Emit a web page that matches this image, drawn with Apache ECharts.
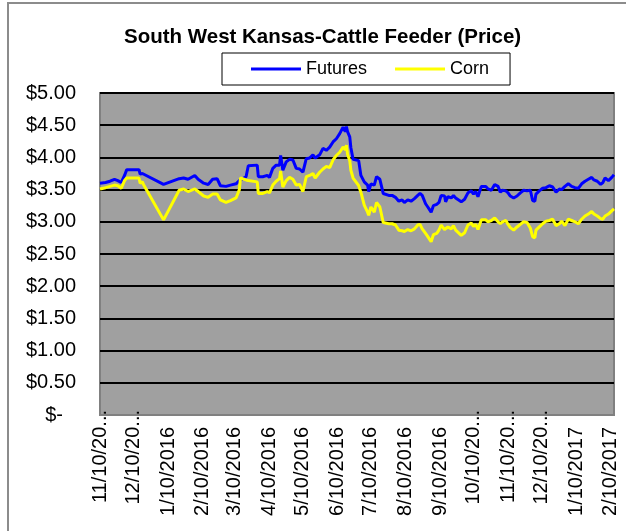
<!DOCTYPE html>
<html>
<head>
<meta charset="utf-8">
<script src="https://cdn.jsdelivr.net/npm/echarts@6/dist/echarts.min.js"></script>
<style>
html,body{margin:0;padding:0;background:#fff;}
#chart{width:626px;height:531px;}
</style>
</head>
<body>
<div id="chart"></div>
<script>
// Days since 11/10/2015 for each reading
const dayOffsets = [0,5,9,13,16,19,22,24,35,36,38,39,57,71,75,79,85,88,93,97,101,105,108,113,117,122,125,126,131,133,141,142,146,150,152,155,158,161,162,164,167,170,173,176,179,182,185,188,191,193,197,200,203,206,209,212,215,216,218,220,221,222,224,225,227,228,232,234,237,240,241,243,246,248,251,254,259,262,265,268,271,273,276,279,282,285,287,289,292,294,297,299,302,304,306,309,310,312,315,317,319,324,327,330,333,335,337,339,342,343,346,348,351,354,357,359,361,364,366,368,371,374,377,380,383,386,388,390,391,394,397,400,403,406,409,412,414,417,420,423,426,429,432,435,438,441,443,446,449,451,453,456,459,461];

const futures = [3.60,3.61,3.63,3.66,3.64,3.61,3.72,3.81,3.81,3.74,3.75,3.74,3.58,3.67,3.68,3.66,3.72,3.66,3.60,3.58,3.66,3.67,3.56,3.55,3.57,3.59,3.64,3.67,3.70,3.87,3.88,3.70,3.70,3.72,3.69,3.83,3.88,3.88,4.03,3.80,3.93,3.97,3.96,3.83,3.82,3.77,3.98,3.99,4.04,3.99,4.04,4.14,4.11,4.16,4.24,4.29,4.37,4.34,4.47,4.40,4.48,4.40,4.32,4.15,3.97,3.97,3.95,3.72,3.62,3.57,3.47,3.59,3.57,3.70,3.66,3.44,3.41,3.41,3.38,3.32,3.34,3.30,3.34,3.32,3.36,3.41,3.44,3.41,3.28,3.23,3.15,3.25,3.27,3.30,3.41,3.40,3.31,3.39,3.37,3.41,3.37,3.31,3.35,3.45,3.48,3.43,3.47,3.39,3.55,3.54,3.55,3.51,3.49,3.58,3.55,3.46,3.49,3.48,3.45,3.40,3.37,3.40,3.45,3.49,3.48,3.49,3.33,3.32,3.43,3.48,3.52,3.53,3.56,3.54,3.46,3.51,3.50,3.55,3.59,3.55,3.53,3.52,3.59,3.63,3.66,3.69,3.65,3.63,3.58,3.61,3.68,3.64,3.69,3.73];

const corn = [3.51,3.53,3.55,3.57,3.56,3.52,3.64,3.68,3.68,3.60,3.62,3.58,3.03,3.49,3.51,3.47,3.51,3.47,3.40,3.38,3.43,3.43,3.34,3.30,3.33,3.37,3.50,3.68,3.65,3.64,3.62,3.44,3.44,3.47,3.45,3.57,3.63,3.67,3.79,3.54,3.64,3.69,3.66,3.57,3.58,3.47,3.70,3.72,3.75,3.68,3.77,3.82,3.86,3.84,3.96,4.03,4.08,4.11,4.16,4.12,4.19,4.05,3.95,3.80,3.68,3.66,3.56,3.46,3.26,3.15,3.10,3.23,3.15,3.30,3.23,2.99,2.97,2.97,2.95,2.87,2.86,2.85,2.88,2.86,2.89,2.95,2.96,2.89,2.82,2.77,2.69,2.80,2.82,2.87,2.95,2.88,2.89,2.92,2.89,2.94,2.87,2.79,2.83,2.95,2.98,2.93,2.96,2.88,3.03,3.04,3.03,3.00,3.02,3.06,3.00,2.97,3.00,3.02,2.96,2.91,2.87,2.92,2.96,3.00,2.99,2.90,2.77,2.75,2.87,2.92,2.97,3.01,3.02,3.04,2.94,2.97,3.01,2.94,3.04,3.02,3.00,2.97,3.04,3.09,3.12,3.16,3.12,3.09,3.05,3.04,3.09,3.12,3.17,3.20];

const tickDates = ['2015-11-10','2015-12-10','2016-01-10','2016-02-10','2016-03-10','2016-04-10','2016-05-10','2016-06-10','2016-07-10','2016-08-10','2016-09-10','2016-10-10','2016-11-10','2016-12-10','2017-01-10','2017-02-10'];
const tickLabels = ['11/10/20...','12/10/20...','1/10/2016','2/10/2016','3/10/2016','4/10/2016','5/10/2016','6/10/2016','7/10/2016','8/10/2016','9/10/2016','10/10/20...','11/10/20...','12/10/20...','1/10/2017','2/10/2017'];

const START = Date.UTC(2015,10,10);
function dayOf(s){ const p=s.split('-').map(Number); return Math.round((Date.UTC(p[0],p[1]-1,p[2])-START)/86400000); }
const tickDays = tickDates.map(dayOf);

const FONT = '"Liberation Sans", Arial, sans-serif';

const chart = echarts.init(document.getElementById('chart'), null, {renderer:'canvas'});
chart.setOption({
  animation:false,
  backgroundColor:'#ffffff',
  graphic:[{
    type:'rect', shape:{x:8,y:3,width:700,height:700},
    style:{fill:'none',stroke:'#8c8c8c',lineWidth:2}, silent:true
  }],
  title:{
    text:'South West Kansas-Cattle Feeder (Price)',
    left:119, top:22,
    textStyle:{fontFamily:FONT,fontSize:20.5,fontWeight:'bold',color:'#000'}
  },
  legend:{
    left:222, top:53,
    padding:[7,21,7,29],
    borderColor:'#000', borderWidth:1,
    backgroundColor:'#fff',
    itemWidth:50, itemHeight:3, itemGap:28,
    icon:'rect',
    textStyle:{fontFamily:FONT,fontSize:18,color:'#000'},
    data:['Futures','Corn']
  },
  grid:{
    left:100, right:12, top:93, bottom:116,
    show:true, backgroundColor:'#a0a0a0', borderColor:'#808080', borderWidth:2
  },
  xAxis:{
    type:'value',
    min:0, max:461,
    axisLine:{show:false},
    axisTick:{show:false},
    splitLine:{show:false},
    axisLabel:{
      customValues:tickDays,
      rotate:90,
      margin:-5,
      color:'#000',
      fontFamily:FONT,
      fontSize:20,
      formatter:function(v){
        const i = tickDays.indexOf(Math.round(v));
        const t = i>=0 ? tickLabels[i] : '';
        return t.endsWith('...') ? '{t|'+t+'}' : '{n|'+t+'}';
      },
      rich:{
        t:{fontFamily:FONT,fontSize:20,color:'#000'},
        n:{fontFamily:FONT,fontSize:20,color:'#000',padding:[0,17,0,0]}
      }
    }
  },
  yAxis:{
    type:'value',
    min:0, max:5, interval:0.5,
    axisLine:{show:false},
    axisTick:{show:false},
    splitLine:{show:true, showMinLine:false, lineStyle:{color:'#000',width:2}},
    axisLabel:{
      margin:24,
      color:'#000', fontFamily:FONT, fontSize:20,
      formatter:function(v){ return v===0 ? '{z|$-}' : '$'+v.toFixed(2); },
      rich:{ z:{fontFamily:FONT,fontSize:20,color:'#000',padding:[0,13,0,0]} }
    }
  },
  series:[
    {
      name:'Futures', type:'line', symbol:'none', showSymbol:false,
      lineStyle:{color:'#0000ff',width:3}, itemStyle:{color:'#0000ff'},
      data:dayOffsets.map((d,i)=>[d,futures[i]])
    },
    {
      name:'Corn', type:'line', symbol:'none', showSymbol:false,
      lineStyle:{color:'#ffff00',width:3}, itemStyle:{color:'#ffff00'},
      data:dayOffsets.map((d,i)=>[d,corn[i]])
    }
  ]
});
</script>
</body>
</html>
